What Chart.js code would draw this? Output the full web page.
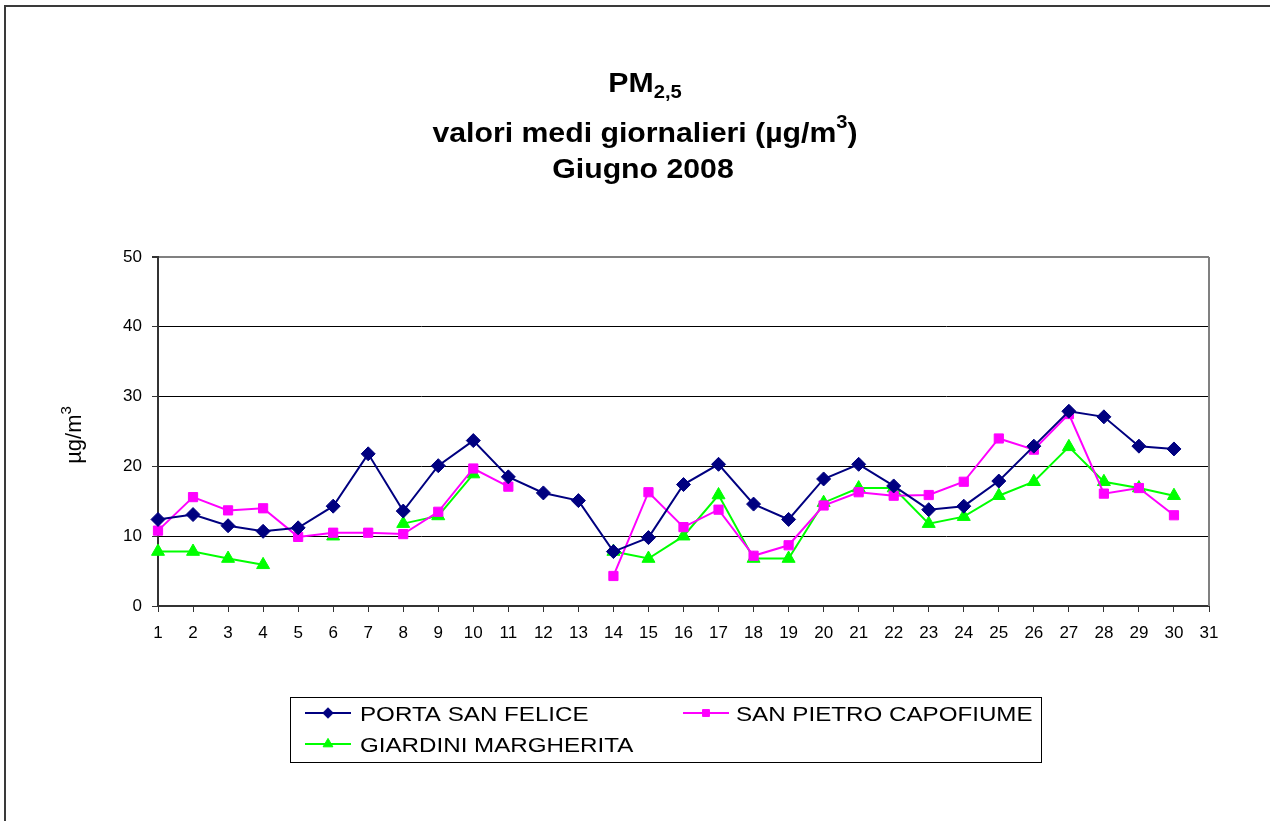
<!DOCTYPE html>
<html>
<head>
<meta charset="utf-8">
<script src="https://cdn.jsdelivr.net/npm/chart.js@4.4.1/dist/chart.umd.min.js"></script>
<style>
  html, body { margin: 0; padding: 0; background: #fff; }
  #c { display: block; }
</style>
</head>
<body>
<canvas id="c" width="1270" height="821"></canvas>
<script>
// ---- data ----
const days = ['1','2','3','4','5','6','7','8','9','10','11','12','13','14','15','16','17','18','19','20','21','22','23','24','25','26','27','28','29','30','31'];
const portaSanFelice = [12.4,13.1,11.5,10.7,11.2,14.3,21.8,13.6,20.1,23.7,18.5,16.2,15.1,7.8,9.8,17.4,20.3,14.6,12.4,18.2,20.3,17.2,13.8,14.3,17.9,22.9,27.9,27.1,22.9,22.5];
const sanPietroCapofiume = [10.8,15.6,13.7,14.0,9.9,10.5,10.5,10.3,13.5,19.7,17.1,null,null,4.3,16.3,11.3,13.8,7.2,8.7,14.4,16.3,15.8,15.9,17.8,24.0,22.4,27.5,16.1,16.9,13.0];
const giardiniMargherita = [7.8,7.8,6.8,5.9,null,10.0,null,11.8,12.9,18.9,null,null,null,7.8,6.8,10.0,15.9,6.8,6.8,14.8,16.9,16.9,11.8,12.8,15.8,17.8,22.8,17.8,16.9,15.8];
const seriesNames = ['PORTA SAN FELICE','SAN PIETRO CAPOFIUME','GIARDINI MARGHERITA'];
const yTicks = [0,10,20,30,40,50];

const FONT = "'Liberation Sans', Arial, Helvetica, sans-serif";

function drawRich(ctx, parts, cx, baseline, sx, bold) {
  ctx.save();
  let w = 0;
  parts.forEach(p => { ctx.font = (bold ? 'bold ' : '') + p.size + 'px ' + FONT; p.w = ctx.measureText(p.t).width; w += p.w; });
  ctx.translate(cx, baseline);
  ctx.scale(sx, 1);
  let x = -w / 2;
  ctx.textBaseline = 'alphabetic';
  ctx.textAlign = 'left';
  ctx.fillStyle = '#000';
  parts.forEach(p => {
    ctx.font = (bold ? 'bold ' : '') + p.size + 'px ' + FONT;
    ctx.fillText(p.t, x, p.dy || 0);
    x += p.w;
  });
  ctx.restore();
}

const decor = {
  id: 'decor',
  beforeDraw(chart) {
    const ctx = chart.ctx;
    ctx.save();
    ctx.fillStyle = '#fff';
    ctx.fillRect(0, 0, chart.width, chart.height);
    ctx.restore();
  },
  afterDraw(chart) {
    const ctx = chart.ctx;
    const a = chart.chartArea;
    ctx.save();
    // plot right border
    ctx.strokeStyle = '#808080';
    ctx.lineWidth = 2;
    ctx.beginPath();
    ctx.moveTo(a.right, a.top);
    ctx.lineTo(a.right, a.bottom);
    ctx.stroke();
    // outer frame (top & left)
    ctx.strokeStyle = '#3a3a3a';
    ctx.lineWidth = 2;
    ctx.beginPath();
    ctx.moveTo(5, chart.height);
    ctx.lineTo(5, 6);
    ctx.lineTo(chart.width, 6);
    ctx.stroke();
    ctx.restore();

    // title
    drawRich(ctx, [{t:'PM', size:27}, {t:'2,5', size:18, dy:6}], 645, 92, 1.12, true);
    drawRich(ctx, [{t:'valori medi giornalieri (µg/m', size:27}, {t:'3', size:18, dy:-14}, {t:')', size:27}], 645, 142, 1.12, true);
    drawRich(ctx, [{t:'Giugno 2008', size:27}], 643, 178, 1.12, true);

    // y title
    ctx.save();
    ctx.translate(81, 435);
    ctx.rotate(-Math.PI / 2);
    drawRich(ctx, [{t:'µg/m', size:22}, {t:'3', size:15, dy:-10}], 0, 0, 1, false);
    ctx.restore();

    // legend
    ctx.save();
    ctx.strokeStyle = '#000';
    ctx.lineWidth = 1;
    ctx.strokeRect(290.5, 697.5, 751, 65);
    const ds = chart.data.datasets;
    const entries = [
      {i:0, lx:305, rx:351, tx:360, y:713},
      {i:1, lx:683, rx:729, tx:736, y:713},
      {i:2, lx:305, rx:351, tx:360, y:744}
    ];
    entries.forEach(e => {
      const d = ds[e.i];
      ctx.strokeStyle = d.borderColor;
      ctx.lineWidth = 2;
      ctx.beginPath();
      ctx.moveTo(e.lx, e.y);
      ctx.lineTo(e.rx, e.y);
      ctx.stroke();
      ctx.fillStyle = d.pointBackgroundColor;
      ctx.strokeStyle = d.pointBorderColor;
      ctx.lineWidth = 1;
      Chart.helpers.drawPoint(ctx, {pointStyle: d.pointStyle, radius: d.pointRadius * 0.75, borderWidth: 1}, (e.lx + e.rx) / 2, e.y);
      ctx.save();
      ctx.translate(e.tx, e.y + 7.5);
      ctx.scale(1.15, 1);
      ctx.fillStyle = '#000';
      ctx.font = '21px ' + FONT;
      ctx.textAlign = 'left';
      ctx.textBaseline = 'alphabetic';
      ctx.fillText(seriesNames[e.i], 0, 0);
      ctx.restore();
    });
    ctx.restore();
  }
};

const ctx = document.getElementById('c').getContext('2d');

new Chart(ctx, {
  type: 'line',
  data: {
    labels: days,
    datasets: [
      {
        label: seriesNames[0], data: portaSanFelice,
        borderColor: '#000080', backgroundColor: '#000080',
        pointBackgroundColor: '#000080', pointBorderColor: '#000080',
        pointStyle: 'rectRot', pointRadius: 7, pointBorderWidth: 1,
        borderWidth: 2, tension: 0, spanGaps: false
      },
      {
        label: seriesNames[1], data: sanPietroCapofiume,
        borderColor: '#FF00FF', backgroundColor: '#FF00FF',
        pointBackgroundColor: '#FF00FF', pointBorderColor: '#FF00FF',
        pointStyle: 'rect', pointRadius: 6.5, pointBorderWidth: 1,
        borderWidth: 2, tension: 0, spanGaps: false
      },
      {
        label: seriesNames[2], data: giardiniMargherita,
        borderColor: '#00FF00', backgroundColor: '#00FF00',
        pointBackgroundColor: '#00FF00', pointBorderColor: '#00FF00',
        pointStyle: 'triangle', pointRadius: 7.5, pointBorderWidth: 1,
        borderWidth: 2, tension: 0, spanGaps: false
      }
    ]
  },
  options: {
    responsive: false,
    animation: false,
    devicePixelRatio: 1,
    layout: { padding: { top: 257, right: 61, bottom: 175, left: 0 } },
    plugins: {
      legend: { display: false },
      title: { display: false },
      tooltip: { enabled: false }
    },
    scales: {
      x: {
        type: 'category',
        offset: false,
        afterFit(s) { s.height = 40; },
        grid: { drawOnChartArea: false, drawTicks: true, tickLength: 6, tickColor: '#333', tickWidth: 1 },
        border: { color: '#333', width: 2 },
        ticks: { color: '#000', font: { family: FONT, size: 17 }, padding: 11, autoSkip: false, maxRotation: 0 }
      },
      y: {
        min: 0, max: 50,
        afterFit(s) { s.width = 158; },
        afterBuildTicks(s) { s.ticks = yTicks.map(v => ({ value: v })); },
        grid: {
          color: c => (c.tick && c.tick.value === 50) ? '#808080' : '#000',
          lineWidth: c => (c.tick && c.tick.value === 50) ? 2 : 1,
          drawTicks: true, tickLength: 6, tickColor: '#333'
        },
        border: { color: '#333', width: 2 },
        ticks: { color: '#000', font: { family: FONT, size: 17 }, padding: 10 }
      }
    }
  },
  plugins: [decor]
});
</script>
</body>
</html>
